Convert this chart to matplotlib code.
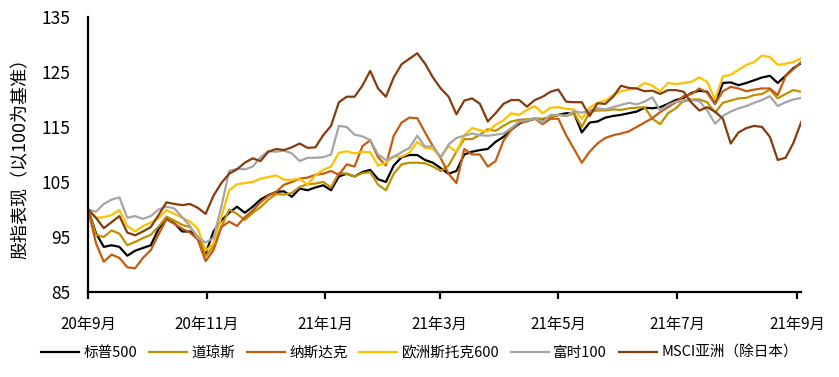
import numpy as np
import pandas as pd
import matplotlib
matplotlib.use("Agg")
from matplotlib import pyplot as plt

plt.rcParams['font.family'] = ['Noto Sans CJK SC', 'DejaVu Sans']

# sampled roughly every 4 days, 2020-09-01 .. 2021-09-03, base = 100
dates = pd.date_range('2020-09-01', '2021-09-03', periods=92)

sp500 = [100, 95.7, 93.2, 93.5, 93.2, 91.6, 92.5, 93, 93.5, 96.5,
         98.3, 97.5, 96, 96, 95, 92, 96, 98, 99.4, 100.5,
         99.4, 100.5, 101.8, 102.6, 103.2, 103.3, 102.3, 103.8, 103.5, 104,
         104.4, 103.5, 106, 106.5, 106, 106.8, 107.2, 105.5, 105, 108,
         109.5, 109.9, 109.9, 109, 108.5, 107.5, 106.5, 107, 110, 110.5,
         110.8, 111, 112.3, 113.2, 114.5, 115.6, 116.2, 116.5, 116.4, 116.8,
         117.2, 117.5, 117.5, 114, 115.8, 116, 116.7, 117, 117.2, 117.5,
         117.8, 118.5, 118.4, 118.6, 119.2, 119.9, 120.3, 121.2, 121.6, 121.4,
         119.2, 123, 123.1, 122.6, 123, 123.5, 124, 124.3, 123, 124.3,
         125.7, 126.6]

dow = [100, 95.4, 95, 96.2, 95.6, 93.5, 94.1, 94.8, 95.4, 96.9,
       98.7, 98, 97.2, 96.8, 95, 91.5, 93.3, 96.8, 100, 99.2,
       98.1, 99.4, 100.4, 101.8, 102.8, 102.7, 103, 104.1, 104.6, 104.7,
       105, 104, 106.6, 106.5, 106, 106.6, 106.8, 104.5, 103.5, 106.5,
       108.2, 108.5, 108.5, 108.4, 107.8, 107, 108, 110.5, 112.8, 112.8,
       113.6, 114.6, 114.3, 115.2, 116, 116.3, 116.4, 116.5, 116.5, 116.8,
       117.2, 117, 117.5, 115, 117.7, 118, 118, 118.2, 118.1, 118.4,
       118.5, 118.6, 116.5, 115.5, 117.5, 118.4, 119.8, 120, 120, 119.5,
       117.6, 119.4, 119.8, 120.2, 120.3, 120.8, 121, 121.8, 120.2, 121,
       121.7, 121.4]

nasdaq = [100, 93.9, 90.5, 91.8, 91.2, 89.5, 89.3, 91.2, 92.6, 95.5,
          98.2, 97.4, 96.5, 95.8, 94.5, 90.6, 92.6, 96.8, 97.8, 97,
          98.6, 99.8, 101.3, 102.5, 103.2, 104.5, 105, 105.6, 105.8, 106.3,
          106.5, 107, 106.3, 108.2, 107.8, 111.5, 112.6, 109.5, 108, 113.4,
          115.8, 116.7, 116.6, 114, 111.5, 109.3, 106.5, 104.8, 111, 110,
          110, 107.8, 108.8, 112.5, 114.5, 115.8, 116, 116.5, 115.5, 116.5,
          116.5, 113.5, 111, 108.5, 110.5, 112, 113, 113.5, 113.8, 114.2,
          115, 115.8, 116.6, 117.7, 118.6, 119.5, 120.6, 121, 122, 121.2,
          119.2, 121.5, 122.3, 122, 121.5, 121.8, 122, 122, 120.8, 124.2,
          125.5, 126.8]

stoxx600 = [100, 98.5, 98.6, 99, 99.9, 97, 96, 97, 97.6, 98.4,
            99.9, 99.2, 98.5, 97.8, 96.5, 92.5, 93.8, 98.6, 103.5, 104.6,
            104.8, 105, 105.6, 105.9, 106.2, 105.4, 105.4, 105.6, 104.5, 106.2,
            107.2, 107.8, 110.3, 110.6, 110.2, 110.5, 110.4, 108, 108.5, 109.6,
            109.6, 110.3, 112.3, 111.2, 111, 109.5, 111.5, 110.5, 113.5, 114.8,
            114.4, 114.2, 115.4, 116.2, 117.5, 117.2, 118.1, 118.8, 117.5, 118.5,
            118.6, 118.3, 118.2, 116.5, 118.5, 119.4, 119.8, 120.8, 121.5, 121.8,
            122, 123, 122.5, 121.5, 123, 122.8, 123, 123.2, 124, 123.2,
            120, 124.2, 124.5, 125.4, 126.3, 126.8, 128, 127.7, 126.3, 126.5,
            126.8, 127.5]

ftse100 = [100, 99.6, 101, 101.8, 102.2, 98.5, 98.8, 98.3, 98.8, 100,
           100.5, 100.2, 98.6, 97, 94.8, 94, 94.8, 100.5, 107, 107.4,
           107.3, 107.8, 109.5, 110.6, 110.5, 110.7, 110.2, 108.8, 109.4, 109.4,
           109.5, 110, 115.2, 115, 113.6, 113.3, 112.6, 110, 109, 109.6,
           110.4, 111.2, 113.4, 111.4, 111.5, 109.5, 111.8, 113, 113.4, 113.8,
           113.5, 113.4, 113.6, 113.8, 114.8, 116, 116.2, 116.6, 115.8, 117.2,
           117.2, 117, 117.9, 117.6, 118, 118.4, 118.2, 118.6, 119, 119.4,
           119.1, 119.6, 120.4, 118, 119, 119.6, 119.6, 119.9, 119.7, 118,
           115.6, 117, 117.8, 118.4, 118.8, 119.4, 119.9, 120.6, 118.8, 119.5,
           120, 120.3]

msci_asia = [100, 98.5, 96.6, 97.7, 98.8, 95.8, 95.3, 96, 96.8, 99,
             101.3, 101, 100.8, 101, 100.3, 99.2, 102.5, 104.8, 106.5, 107.3,
             108.5, 109.3, 108.8, 110.5, 111, 110.8, 111.3, 112, 111.2, 111.3,
             113.5, 115.2, 119.5, 120.5, 120.5, 122.5, 125.2, 122, 120.5, 124,
             126.4, 127.4, 128.4, 126.5, 124, 122, 120.5, 117.3, 119.8, 120.2,
             119.2, 116, 117.5, 119.2, 119.9, 119.9, 118.7, 119.9, 120.5, 121.4,
             121.8, 119.6, 119.5, 119.5, 117, 119.3, 119.2, 120.5, 122.5, 122.1,
             122, 121.5, 121.6, 121, 121.7, 121.7, 121.4, 119.4, 118, 118.6,
             117.8, 116.5, 112, 114, 114.8, 115.2, 115, 113.2, 109, 109.4,
             112.1, 115.9]

names = ['标普500', '道琼斯', '纳斯达克', '欧洲斯托克600', '富时100', 'MSCI亚洲（除日本）']
colors = ['#000000', '#BF9000', '#C55A11', '#FFC000', '#A5A5A5', '#843C0C']
series = [sp500, dow, nasdaq, stoxx600, ftse100, msci_asia]

tick_dates = pd.date_range('2020-09-01', '2021-09-01', freq='2MS')
tick_labels = ['20年9月', '20年11月', '21年1月', '21年3月', '21年5月', '21年7月', '21年9月']

fig = plt.figure(figsize=(8.39, 3.77), dpi=100)
ax = fig.add_axes([0.105, 0.2255, 0.850, 0.7295])

for vals, name, c in zip(series, names, colors):
    ax.plot(dates, vals, color=c, lw=1.6, label=name)

ax.set_xlim(pd.Timestamp('2020-09-01'), pd.Timestamp('2021-09-03'))
ax.set_ylim(85, 135)
ax.set_yticks(np.arange(85, 136, 10))
ax.set_xticks(tick_dates)
ax.set_xticklabels(tick_labels)

for s in ['top', 'right']:
    ax.spines[s].set_visible(False)
for s in ['left', 'bottom']:
    ax.spines[s].set_linewidth(1.6)
    ax.spines[s].set_color('black')

ax.tick_params(axis='y', length=0, pad=13, labelsize=12.5)
ax.tick_params(axis='x', length=5, width=1.6, direction='out', pad=12, labelsize=11)

ax.set_ylabel('股指表现（以100为基准）', fontsize=13, labelpad=8)

fig.legend(loc='center', bbox_to_anchor=(0.5, 0.064), ncol=6, frameon=False,
           fontsize=10.5, handlelength=2.6, handletextpad=0.3, columnspacing=0.8)

fig.savefig('out.png', dpi=100)
